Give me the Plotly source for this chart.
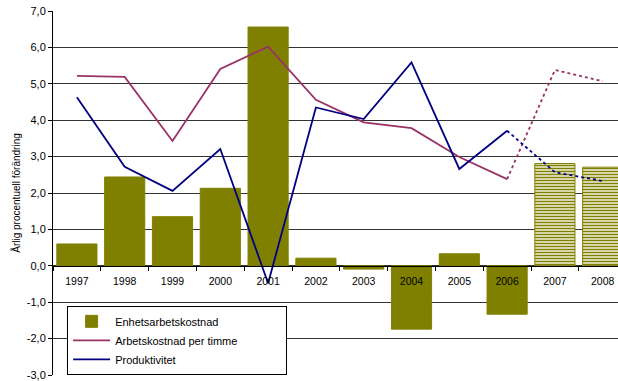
import plotly.graph_objects as go

# Annual percentage change, 1997-2008 (2007-2008 are forecasts)
years = ["1997", "1998", "1999", "2000", "2001", "2002",
         "2003", "2004", "2005", "2006", "2007", "2008"]
unit_labour_cost = [0.60, 2.44, 1.35, 2.13, 6.56, 0.21,
                    -0.09, -1.74, 0.33, -1.33, 2.81, 2.71]
hourly_labour_cost = [5.22, 5.19, 3.43, 5.41, 6.02, 4.56,
                      3.94, 3.78, 2.99, 2.38, 5.38, 5.07]
productivity = [4.63, 2.72, 2.06, 3.21, -0.48, 4.35,
                4.03, 5.59, 2.66, 3.71, 2.57, 2.33]
first_forecast_year = "2007"

y_ticks = [-3, -2, -1, 0, 1, 2, 3, 4, 5, 6, 7]
y_tick_text = ["-3,0", "-2,0", "-1,0", "0,0", "1,0", "2,0",
               "3,0", "4,0", "5,0", "6,0", "7,0"]

OLIVE = "#808000"
PLUM = "#993366"
NAVY = "#000080"
FONT = "Arial, Liberation Sans, sans-serif"
NBSP = "\u00a0"

f = years.index(first_forecast_year)
last_actual = f - 1

fig = go.Figure()

# Bars: forecast years are drawn with horizontal stripes
fig.add_trace(go.Bar(
    x=years, y=unit_labour_cost, name="Enhetsarbetskostnad",
    marker=dict(
        color=OLIVE,
        line=dict(color=OLIVE, width=1),
        pattern=dict(
            shape=["" if i < f else "-" for i in range(len(years))],
            fgcolor=OLIVE, bgcolor="#f2f2dc",
            size=3, solidity=0.5, fillmode="replace",
        ),
    ),
))

def add_line(values, name, color):
    fig.add_trace(go.Scatter(
        x=years[:f], y=values[:f], name=name, mode="lines",
        line=dict(color=color, width=1.8),
    ))
    fig.add_trace(go.Scatter(
        x=years[last_actual:], y=values[last_actual:], mode="lines",
        showlegend=False,
        line=dict(color=color, width=1.8, dash="3px,3px"),
    ))

# trailing spaces widen the legend box
add_line(hourly_labour_cost, "Arbetskostnad per timme" + NBSP * 14, PLUM)
add_line(productivity, "Produktivitet", NAVY)

fig.update_layout(
    width=618, height=381,
    margin=dict(l=53, r=0, t=11, b=6),
    paper_bgcolor="white", plot_bgcolor="white",
    font=dict(family=FONT, color="black", size=11),
    bargap=0.16,
    showlegend=True,
    legend=dict(
        x=0.025, y=0.19, xanchor="left", yanchor="top",
        bgcolor="white", bordercolor="black", borderwidth=1,
        font=dict(size=11, family=FONT),
        tracegroupgap=0, itemwidth=37,
    ),
    xaxis=dict(
        type="category",
        range=[-0.5, 11.32],
        anchor="free", position=0.3,
        showline=True, linecolor="black", linewidth=1,
        ticks="outside", ticklen=4, tickcolor="black",
        tickson="boundaries",
        showgrid=False,
        tickfont=dict(size=10.5, family=FONT),
        ticklabelstandoff=6,
    ),
    yaxis=dict(
        range=[-3, 7],
        tickvals=y_ticks, ticktext=y_tick_text,
        showline=True, linecolor="black", linewidth=1,
        ticks="outside", ticklen=4, tickcolor="black",
        showgrid=True, gridcolor="#333333", gridwidth=1,
        zeroline=False,
        tickfont=dict(size=11, family=FONT),
        title=dict(text="Årlig procentuell förändring",
                   font=dict(size=10, family=FONT), standoff=4),
    ),
)

fig.write_html("out.html")
